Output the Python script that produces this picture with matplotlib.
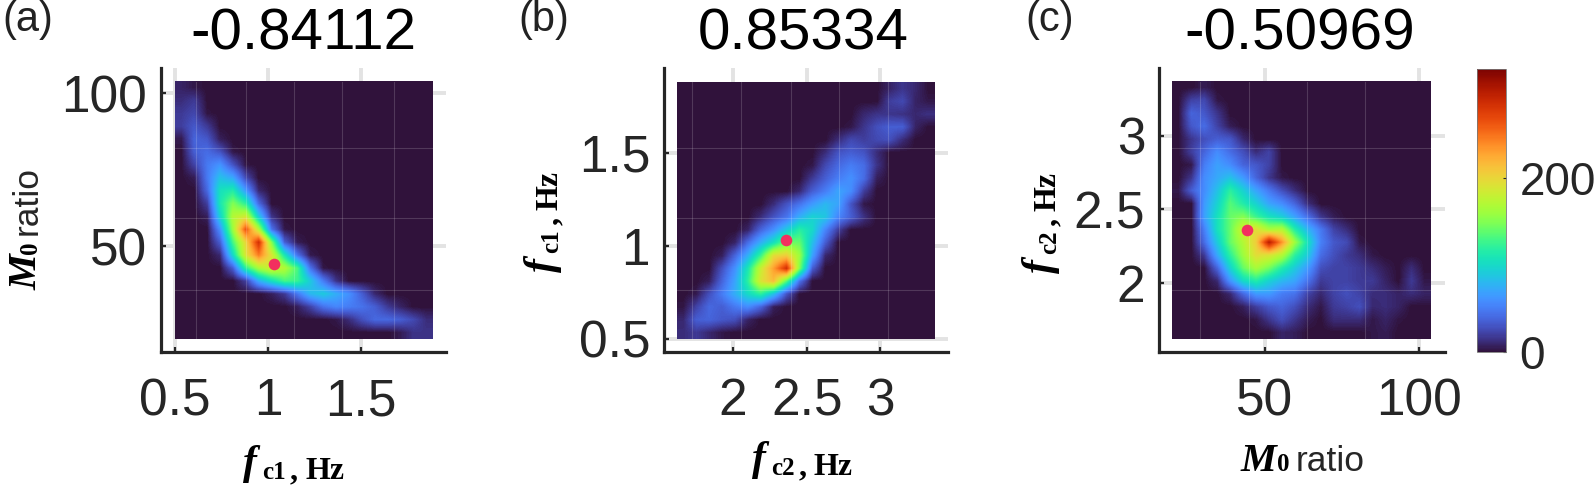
import numpy as np
import matplotlib
matplotlib.use('Agg')
import matplotlib.pyplot as plt
from matplotlib.cm import ScalarMappable
from matplotlib.colors import Normalize

# counts, 20x20 coarse cells, top row first
hist_a = [
    [8, 3, 0, 0, 0, 0, 0, 0, 0, 0, 0, 0, 0, 0, 0, 0, 0, 0, 0, 0],
    [12, 18, 0, 0, 0, 0, 0, 0, 0, 0, 0, 0, 0, 0, 0, 0, 0, 0, 0, 0],
    [18, 24, 2, 0, 0, 0, 0, 0, 0, 0, 0, 0, 0, 0, 0, 0, 0, 0, 0, 0],
    [20, 32, 18, 0, 0, 0, 0, 0, 0, 0, 0, 0, 0, 0, 0, 0, 0, 0, 0, 0],
    [4, 38, 32, 6, 0, 0, 0, 0, 0, 0, 0, 0, 0, 0, 0, 0, 0, 0, 0, 0],
    [0, 35, 42, 30, 3, 0, 0, 0, 0, 0, 0, 0, 0, 0, 0, 0, 0, 0, 0, 0],
    [0, 22, 48, 62, 30, 2, 0, 0, 0, 0, 0, 0, 0, 0, 0, 0, 0, 0, 0, 0],
    [0, 5, 48, 85, 72, 25, 0, 0, 0, 0, 0, 0, 0, 0, 0, 0, 0, 0, 0, 0],
    [0, 0, 40, 105, 115, 65, 10, 0, 0, 0, 0, 0, 0, 0, 0, 0, 0, 0, 0, 0],
    [0, 0, 20, 110, 150, 120, 40, 0, 0, 0, 0, 0, 0, 0, 0, 0, 0, 0, 0, 0],
    [0, 0, 6, 95, 170, 185, 90, 15, 0, 0, 0, 0, 0, 0, 0, 0, 0, 0, 0, 0],
    [0, 0, 0, 60, 160, 265, 170, 45, 3, 0, 0, 0, 0, 0, 0, 0, 0, 0, 0, 0],
    [0, 0, 0, 35, 130, 200, 285, 150, 35, 5, 0, 0, 0, 0, 0, 0, 0, 0, 0, 0],
    [0, 0, 0, 10, 100, 190, 245, 190, 110, 45, 4, 0, 0, 0, 0, 0, 0, 0, 0, 0],
    [0, 0, 0, 0, 35, 120, 165, 185, 170, 130, 45, 2, 0, 0, 0, 0, 0, 0, 0, 0],
    [0, 0, 0, 0, 0, 20, 75, 105, 130, 125, 90, 50, 15, 0, 0, 0, 0, 0, 0, 0],
    [0, 0, 0, 0, 0, 0, 0, 6, 18, 48, 80, 90, 75, 60, 35, 10, 0, 0, 0, 0],
    [0, 0, 0, 0, 0, 0, 0, 0, 0, 6, 22, 45, 55, 50, 45, 35, 18, 8, 0, 0],
    [0, 0, 0, 0, 0, 0, 0, 0, 0, 0, 0, 0, 3, 12, 28, 40, 40, 35, 25, 12],
    [0, 0, 0, 0, 0, 0, 0, 0, 0, 0, 0, 0, 0, 0, 0, 0, 0, 5, 15, 15],
]
hist_b = [
    [0, 0, 0, 0, 0, 0, 0, 0, 0, 0, 0, 0, 0, 0, 0, 0, 8, 16, 10, 0],
    [0, 0, 0, 0, 0, 0, 0, 0, 0, 0, 0, 0, 0, 0, 0, 0, 20, 25, 8, 3],
    [0, 0, 0, 0, 0, 0, 0, 0, 0, 0, 0, 0, 0, 0, 10, 15, 16, 14, 10, 14],
    [0, 0, 0, 0, 0, 0, 0, 0, 0, 0, 0, 0, 0, 3, 16, 28, 35, 35, 8, 0],
    [0, 0, 0, 0, 0, 0, 0, 0, 0, 0, 0, 0, 12, 25, 20, 25, 28, 12, 0, 0],
    [0, 0, 0, 0, 0, 0, 0, 0, 0, 0, 0, 12, 30, 35, 30, 12, 0, 0, 0, 0],
    [0, 0, 0, 0, 0, 0, 0, 0, 0, 0, 3, 25, 40, 50, 42, 15, 0, 0, 0, 0],
    [0, 0, 0, 0, 0, 0, 0, 0, 0, 0, 18, 35, 50, 60, 42, 6, 0, 0, 0, 0],
    [0, 0, 0, 0, 0, 0, 0, 0, 0, 10, 35, 50, 70, 58, 20, 0, 0, 0, 0, 0],
    [0, 0, 0, 0, 0, 0, 0, 12, 30, 45, 65, 80, 70, 30, 3, 0, 0, 0, 0, 0],
    [0, 0, 0, 0, 0, 0, 12, 30, 45, 75, 95, 88, 55, 35, 14, 0, 0, 0, 0, 0],
    [0, 0, 0, 0, 0, 8, 38, 60, 90, 118, 100, 55, 20, 0, 0, 0, 0, 0, 0, 0],
    [0, 0, 0, 0, 8, 42, 75, 105, 145, 140, 85, 35, 0, 0, 0, 0, 0, 0, 0, 0],
    [0, 0, 0, 6, 38, 75, 125, 195, 205, 160, 70, 10, 0, 0, 0, 0, 0, 0, 0, 0],
    [0, 0, 0, 28, 60, 110, 180, 230, 285, 150, 35, 0, 0, 0, 0, 0, 0, 0, 0, 0],
    [0, 0, 6, 38, 70, 120, 190, 215, 135, 45, 0, 0, 0, 0, 0, 0, 0, 0, 0, 0],
    [0, 4, 28, 50, 75, 100, 120, 85, 30, 0, 0, 0, 0, 0, 0, 0, 0, 0, 0, 0],
    [2, 22, 40, 35, 48, 58, 38, 6, 0, 0, 0, 0, 0, 0, 0, 0, 0, 0, 0, 0],
    [10, 35, 38, 32, 28, 8, 0, 0, 0, 0, 0, 0, 0, 0, 0, 0, 0, 0, 0, 0],
    [12, 18, 10, 3, 0, 0, 0, 0, 0, 0, 0, 0, 0, 0, 0, 0, 0, 0, 0, 0],
]
hist_c = [
    [0, 0, 5, 0, 0, 0, 0, 0, 0, 0, 0, 0, 0, 0, 0, 0, 0, 0, 0, 0],
    [0, 22, 25, 3, 0, 0, 0, 0, 0, 0, 0, 0, 0, 0, 0, 0, 0, 0, 0, 0],
    [0, 38, 32, 16, 0, 0, 0, 0, 0, 0, 0, 0, 0, 0, 0, 0, 0, 0, 0, 0],
    [0, 32, 42, 22, 5, 0, 0, 0, 0, 0, 0, 0, 0, 0, 0, 0, 0, 0, 0, 0],
    [0, 16, 28, 35, 32, 10, 0, 0, 0, 0, 0, 0, 0, 0, 0, 0, 0, 0, 0, 0],
    [0, 20, 38, 58, 42, 28, 12, 22, 0, 0, 0, 0, 0, 0, 0, 0, 0, 0, 0, 0],
    [0, 3, 50, 68, 58, 38, 32, 22, 0, 0, 0, 0, 0, 0, 0, 0, 0, 0, 0, 0],
    [0, 16, 58, 72, 85, 65, 38, 16, 3, 0, 0, 0, 0, 0, 0, 0, 0, 0, 0, 0],
    [3, 35, 58, 85, 120, 95, 70, 48, 28, 12, 0, 0, 0, 0, 0, 0, 0, 0, 0, 0],
    [0, 0, 65, 95, 135, 115, 95, 70, 58, 38, 12, 0, 0, 0, 0, 0, 0, 0, 0, 0],
    [0, 0, 68, 105, 140, 150, 125, 105, 92, 68, 42, 16, 5, 0, 0, 0, 0, 0, 0, 0],
    [0, 0, 52, 105, 140, 185, 195, 165, 170, 115, 78, 48, 22, 12, 0, 0, 0, 0, 0, 0],
    [0, 0, 42, 90, 140, 170, 205, 300, 235, 160, 105, 52, 32, 26, 3, 0, 0, 0, 0, 0],
    [0, 0, 18, 72, 120, 160, 195, 190, 170, 120, 90, 42, 28, 18, 12, 3, 0, 0, 0, 0],
    [0, 0, 0, 38, 95, 140, 165, 145, 115, 90, 65, 28, 22, 22, 18, 12, 5, 0, 12, 0],
    [0, 0, 0, 10, 62, 100, 115, 95, 80, 70, 45, 18, 22, 22, 18, 18, 8, 0, 18, 3],
    [0, 0, 0, 0, 10, 40, 65, 65, 50, 45, 22, 10, 22, 28, 22, 12, 12, 8, 12, 8],
    [0, 0, 0, 0, 0, 6, 20, 32, 38, 28, 12, 3, 18, 22, 28, 10, 12, 8, 0, 0],
    [0, 0, 0, 0, 0, 0, 3, 16, 28, 16, 5, 0, 12, 12, 12, 3, 8, 2, 0, 0],
    [0, 0, 0, 0, 0, 0, 0, 0, 8, 6, 0, 0, 0, 0, 0, 3, 5, 0, 0, 0],
]
titles = ['-0.84112', '0.85334', '-0.50969']
panel_tags = ['(a)', '(b)', '(c)']
xticks_a = [0.5, 1, 1.5]
xticks_b = [2, 2.5, 3]
xticks_c = [50, 100]
yticks_a = [50, 100]
yticks_b = [0.5, 1, 1.5]
yticks_c = [2, 2.5, 3]
fc1_true = 1.03
fc2_true = 2.36
m0_true = 44

W, H = 1595, 488
VMAX = 325
DARK = '#262626'
SANS = 'Liberation Sans'
SERIF = 'Liberation Serif'

plt.rcParams['font.family'] = SANS
fig = plt.figure(figsize=(W / 100, H / 100), dpi=100)


def px_text(x, y, s, **kw):
    return fig.text(x / W, 1 - y / H, s, **kw)


def panel(left, hist, box, lims, xticks, yticks, xthin, ythin, dot, xtl, ytl):
    ax = fig.add_axes([left / W, 1 - 352 / H, lims_w[left] / W, 284 / H])
    ax.set_axisbelow(True)
    ax.grid(True, color='#e3e3e3', lw=2.8)
    ax.imshow(np.array(hist, dtype=float), cmap='turbo', vmin=0, vmax=VMAX, extent=box,
              origin='upper', aspect='auto', interpolation='bilinear', zorder=2)
    ax.set_xlim(lims[0], lims[1])
    ax.set_ylim(lims[2], lims[3])
    for v in xthin:
        ax.plot([v, v], box[2:], color='white', alpha=0.16, lw=0.8, zorder=3)
    for v in ythin:
        ax.plot(box[:2], [v, v], color='white', alpha=0.16, lw=0.8, zorder=3)
    ax.scatter([dot[0]], [dot[1]], s=70, color='#f2305f', lw=0, zorder=4)
    for side in ['top', 'right']:
        ax.spines[side].set_visible(False)
    for side in ['left', 'bottom']:
        ax.spines[side].set_linewidth(2.3)
        ax.spines[side].set_color(DARK)
    ax.set_xticks(xticks)
    ax.set_yticks(yticks)
    ax.set_xticklabels(xtl)
    ax.set_yticklabels(ytl)
    ax.tick_params(axis='x', direction='in', length=3.5, width=1.6, color=DARK, labelsize=37,
                   labelcolor=DARK, pad=18)
    ax.tick_params(axis='y', direction='in', length=3.5, width=1.6, color=DARK, labelsize=37,
                   labelcolor=DARK, pad=10)
    return ax


lims_w = {161: 285, 664: 284, 1159: 286}

panel(161, hist_a, [0.5, 1.882, 19.6, 103.6], [0.425, 1.957, 15.4, 108.2], xticks_a, yticks_a,
      [0.613, 0.88, 1.14, 1.40, 1.68], [82, 59.2, 35.6], (fc1_true, m0_true),
      ['0.5', '1', '1.5'], ['50', '100'])
panel(664, hist_b, [1.62, 3.37, 0.5, 1.88], [1.53, 3.46, 0.43, 1.957], xticks_b, yticks_b,
      [1.72, 2.05, 2.39, 2.72, 3.05], [1.527, 1.15, 0.763], (fc2_true, fc1_true),
      ['2', '2.5', '3'], ['0.5', '1', '1.5'])
panel(1159, hist_c, [19.8, 103.6, 1.62, 3.367], [15.6, 108.4, 1.53, 3.46], xticks_c, yticks_c,
      [28.9, 44.8, 63.6, 82.5], [2.918, 2.44, 1.95], (m0_true, fc2_true),
      ['50', '100'], ['2', '2.5', '3'])

for cx, t in zip([303, 803, 1300], titles):
    px_text(cx, 50, t, fontsize=42, color='black', ha='center', va='baseline')
for x, t in zip([2, 518, 1025], panel_tags):
    px_text(x, 31, t, fontsize=30, color='#222222', ha='left', va='baseline')

# axis labels are pieced together, the subscript and the Hz differ in size
FC_STYLE = dict(family=SERIF, weight='bold')


def label_parts(x, y, parts, vertical):
    for along, across, s, kw in parts:
        if vertical:
            px_text(x + across, y - along, s, rotation=90, rotation_mode='anchor',
                    ha='left', va='baseline', **kw)
        else:
            px_text(x + along, y + across, s, ha='left', va='baseline', **kw)


def fc_parts(sub):
    return [(0, -5, 'f', dict(style='italic', fontsize=30, **FC_STYLE)),
            (19, 0, sub, dict(fontsize=18, **FC_STYLE)),
            (47, 0, ',', dict(fontsize=23, **FC_STYLE)),
            (62, 0, 'Hz', dict(fontsize=23, **FC_STYLE))]


m0_parts = [(0, 0, 'M', dict(style='italic', fontsize=29, **FC_STYLE)),
            (36, 0, '0', dict(fontsize=18, **FC_STYLE)),
            (55, 0, 'ratio', dict(fontsize=25.5, family=SANS, color=DARK))]

label_parts(243, 479, fc_parts('c1'), False)
label_parts(752, 475, fc_parts('c2'), False)
label_parts(1241, 471, m0_parts, False)
label_parts(37, 290, m0_parts, True)
label_parts(558, 272, fc_parts('c1'), True)
label_parts(1056, 273, fc_parts('c2'), True)

cax = fig.add_axes([1477 / W, 1 - 352 / H, 28.5 / W, 283 / H])
sm = ScalarMappable(norm=Normalize(0, VMAX), cmap='turbo')
cb = fig.colorbar(sm, cax=cax, ticks=[0, 200])
cb.outline.set_edgecolor('#777777')
cb.outline.set_linewidth(0.6)
cax.tick_params(direction='in', length=2.5, width=0.8, color=DARK, labelsize=33,
                labelcolor=DARK, pad=10)

fig.savefig('out.png', dpi=100)
